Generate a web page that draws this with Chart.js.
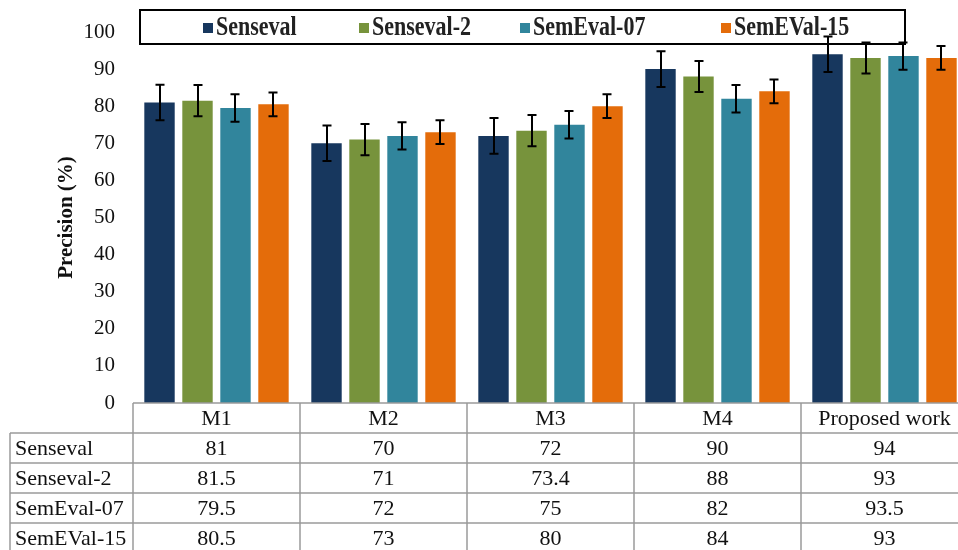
<!DOCTYPE html>
<html>
<head>
<meta charset="utf-8">
<script src="https://cdn.jsdelivr.net/npm/chart.js@4"></script>
<style>
	html, body { margin: 0; padding: 0; background: #fff; overflow: hidden; }
	#wrap { width: 975px; height: 556px; }
</style>
</head>
<body>
<div id="wrap"><canvas id="canvas" width="975" height="556"></canvas></div>
<script>
const metodos = ["M1", "M2", "M3", "M4", "Proposed work"];
const series = ["Senseval", "Senseval-2", "SemEval-07", "SemEVal-15"];
const colores = ["#17375E", "#77933C", "#31859C", "#E46C0A"];

const senseval = [81, 70, 72, 90, 94];
const senseval2 = [81.5, 71, 73.4, 88, 93];
const semeval07 = [79.5, 72, 75, 82, 93.5];
const semeval15 = [80.5, 73, 80, 84, 93];

// error (+/-) read from the whiskers
const err_senseval = [4.8, 4.8, 4.8, 4.8, 4.8];
const err_senseval2 = [4.2, 4.2, 4.2, 4.2, 4.2];
const err_semeval07 = [3.7, 3.7, 3.7, 3.7, 3.7];
const err_semeval15 = [3.2, 3.2, 3.2, 3.2, 3.2];

const yTicks = [0, 10, 20, 30, 40, 50, 60, 70, 80, 90, 100];

const valores = [senseval, senseval2, semeval07, semeval15];
const errores = [err_senseval, err_senseval2, err_semeval07, err_semeval15];

const fuente = "'Liberation Serif', 'Times New Roman', serif";

const leyenda = {
	id: "leyenda",
	beforeDatasetsDraw(chart) {
		const ctx = chart.ctx;
		const box = { x: 140, y: 10, w: 765, h: 34 };
		// left edge of each legend entry inside the box
		const posiciones = [203, 359, 520, 721];
		ctx.save();
		ctx.strokeStyle = "#000";
		ctx.lineWidth = 2;
		ctx.strokeRect(box.x, box.y, box.w, box.h);

		ctx.font = "bold 22px " + fuente;
		const cuadro = 10, sep = 3;
		chart.data.datasets.forEach((d, i) => {
			const x = posiciones[i];
			ctx.fillStyle = d.backgroundColor;
			ctx.fillRect(x, 23, cuadro, cuadro);
			ctx.save();
			ctx.translate(x + cuadro + sep, 34.5);
			ctx.scale(1, 1.25);
			ctx.fillStyle = "#222";
			ctx.textBaseline = "alphabetic";
			ctx.fillText(d.label, 0, 0);
			ctx.restore();
		});
		ctx.restore();
	}
};

const barrasError = {
	id: "barrasError",
	afterDatasetsDraw(chart) {
		const ctx = chart.ctx;
		const y = chart.scales.y;
		ctx.save();
		ctx.strokeStyle = "#000";
		ctx.lineWidth = 2;
		chart.data.datasets.forEach((d, i) => {
			const meta = chart.getDatasetMeta(i);
			meta.data.forEach((bar, j) => {
				const e = errores[i][j];
				const arriba = y.getPixelForValue(d.data[j] + e);
				const abajo = y.getPixelForValue(d.data[j] - e);
				const cx = Math.round(bar.x);
				ctx.beginPath();
				ctx.moveTo(cx, arriba);
				ctx.lineTo(cx, abajo);
				ctx.moveTo(cx - 4.5, arriba);
				ctx.lineTo(cx + 4.5, arriba);
				ctx.moveTo(cx - 4.5, abajo);
				ctx.lineTo(cx + 4.5, abajo);
				ctx.stroke();
			});
		});
		ctx.restore();
	}
};

const tabla = {
	id: "tabla",
	afterDraw(chart) {
		const ctx = chart.ctx;
		const xs = chart.scales.x;
		const area = chart.chartArea;
		const mitad = (xs.getPixelForValue(1) - xs.getPixelForValue(0)) / 2;
		const top = area.bottom;
		const altoFila = 30;
		const izq = 10;
		const filas = chart.data.datasets.length;
		const fondo = top + altoFila * (filas + 1);
		const derecha = xs.getPixelForValue(metodos.length - 1) + mitad;

		ctx.save();
		ctx.strokeStyle = "#9a9a9a";
		ctx.lineWidth = 1.5;
		ctx.beginPath();
		ctx.moveTo(area.left, top);
		ctx.lineTo(derecha, top);
		for (let r = 1; r <= filas + 1; r++) {
			ctx.moveTo(izq, top + altoFila * r);
			ctx.lineTo(derecha, top + altoFila * r);
		}
		ctx.moveTo(izq, top + altoFila);
		ctx.lineTo(izq, fondo);
		ctx.moveTo(area.left, top);
		ctx.lineTo(area.left, fondo);
		metodos.forEach((m, i) => {
			const b = xs.getPixelForValue(i) + mitad;
			ctx.moveTo(b, top);
			ctx.lineTo(b, fondo);
		});
		ctx.stroke();

		ctx.fillStyle = "#111";
		ctx.font = "22px " + fuente;
		ctx.textBaseline = "middle";
		ctx.textAlign = "center";
		metodos.forEach((m, i) => {
			ctx.fillText(m, xs.getPixelForValue(i), top + altoFila / 2 + 1);
		});
		chart.data.datasets.forEach((d, r) => {
			const yc = top + altoFila * (r + 1) + altoFila / 2 + 1;
			ctx.textAlign = "left";
			ctx.fillText(d.label, izq + 5, yc);
			ctx.textAlign = "center";
			d.data.forEach((v, i) => {
				ctx.fillText(String(v), xs.getPixelForValue(i), yc);
			});
		});
		ctx.restore();
	}
};

const grafico = new Chart(document.getElementById("canvas"), {
	type: "bar",
	data: {
		labels: metodos,
		datasets: series.map((s, i) => ({
			label: s,
			data: valores[i],
			backgroundColor: colores[i],
			borderWidth: 0,
			categoryPercentage: 0.91,
			barPercentage: 0.8,
		})),
	},
	options: {
		responsive: false,
		animation: false,
		devicePixelRatio: 1,
		layout: {
			padding: { left: 0, right: 7, top: 32, bottom: 153 },
		},
		plugins: {
			legend: { display: false },
			tooltip: { enabled: false },
		},
		scales: {
			x: {
				display: false,
				offset: true,
			},
			y: {
				min: 0,
				max: 100,
				afterFit(scale) {
					scale.width = 133;
				},
				afterBuildTicks(scale) {
					scale.ticks = yTicks.map(v => ({ value: v }));
				},
				border: { display: false },
				grid: { display: false, drawTicks: false },
				ticks: {
					padding: 18,
					color: "#111",
					font: { family: fuente, size: 21 },
				},
				title: {
					display: true,
					text: "Precision (%)",
					color: "#111",
					padding: { top: 54, bottom: 0 },
					font: { family: fuente, size: 21, weight: "bold" },
				},
			},
		},
	},
	plugins: [leyenda, barrasError, tabla],
});
</script>
</body>
</html>
